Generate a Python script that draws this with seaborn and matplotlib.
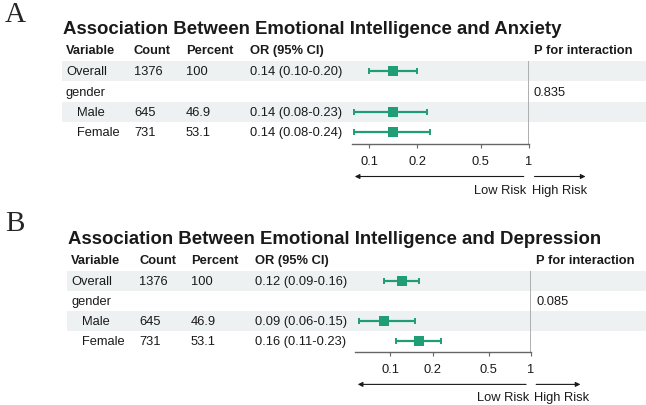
import numpy as np
import pandas as pd
import seaborn as sns
import matplotlib.pyplot as plt

# ---- data ----
variables = ["Overall", "gender", "Male", "Female"]
counts = ["1376", "", "645", "731"]
percents = ["100", "", "46.9", "53.1"]

anx_or = [0.14, np.nan, 0.14, 0.14]
anx_lo = [0.10, np.nan, 0.08, 0.08]
anx_hi = [0.20, np.nan, 0.23, 0.24]
anx_p = ["", "0.835", "", ""]

dep_or = [0.12, np.nan, 0.09, 0.16]
dep_lo = [0.09, np.nan, 0.06, 0.11]
dep_hi = [0.16, np.nan, 0.15, 0.23]
dep_p = ["", "0.085", "", ""]

ticks = [0.1, 0.2, 0.5, 1]
tick_labels = ["0.1", "0.2", "0.5", "1"]

sns.set_theme(style="white")
plt.rcParams["font.family"] = ["Liberation Sans", "DejaVu Sans"]

W, H = 646, 406
fig = plt.figure(figsize=(W / 100, H / 100), dpi=100)

GREEN = "#1f9e76"
BAND = "#edf1f2"
TXT = "#1a1a1a"


def fig_box(x0, x1, ytop, ybot):
    return [x0 / W, 1 - ybot / H, (x1 - x0) / W, (ybot - ytop) / H]


def panel(letter, letter_y, title, ors, los, his, pvals, dx, top, bot, fx0, fx1, xmin):
    df = pd.DataFrame({"var": variables, "n": counts, "pct": percents,
                       "or": ors, "lo": los, "hi": his, "p": pvals,
                       "row": range(len(variables))})
    ylim = (3.55, -0.5)

    # table layer
    tab = fig.add_axes(fig_box(0, W, top, bot))
    tab.set_xlim(0, W)
    tab.set_ylim(*ylim)
    tab.axis("off")
    for r in df["row"]:
        if r % 2 == 0:
            tab.axhspan(r - 0.5, r + 0.5, xmin=(62 + dx) / W, xmax=1, color=BAND, lw=0, zorder=0)

    cols = [66 + dx, 134 + dx, 186 + dx, 250 + dx, 534 + dx * 0.5]
    heads = ["Variable", "Count", "Percent", "OR (95% CI)", "P for interaction"]
    for x, h in zip(cols, heads):
        tab.text(x, -1.05, h, fontsize=9.3, fontweight="bold", color=TXT, va="center", clip_on=False)
    tab.text(63 + dx, -2.1, title, fontsize=13.4, fontweight="bold", color=TXT, va="center", clip_on=False)
    fig.text(5 / W, 1 - letter_y / H, letter, fontsize=21, family="Liberation Serif", va="center")

    for _, d in df.iterrows():
        indent = 11 if d["var"] in ("Male", "Female") else 0
        y = d["row"]
        tab.text(cols[0] + indent, y, d["var"], fontsize=9.3, color=TXT, va="center")
        tab.text(cols[1], y, d["n"], fontsize=9.3, color=TXT, va="center")
        tab.text(cols[2], y, d["pct"], fontsize=9.3, color=TXT, va="center")
        if not np.isnan(d["or"]):
            tab.text(cols[3], y, f"{d['or']:.2f} ({d['lo']:.2f}-{d['hi']:.2f})",
                     fontsize=9.3, color=TXT, va="center")
        tab.text(cols[4], y, d["p"], fontsize=9.3, color=TXT, va="center")

    # forest layer
    ax = fig.add_axes(fig_box(fx0, fx1, top, bot))
    ax.patch.set_alpha(0)
    est = df.dropna(subset=["or"])
    ax.errorbar(est["or"], est["row"],
                xerr=[est["or"] - est["lo"], est["hi"] - est["or"]],
                fmt="none", ecolor=GREEN, elinewidth=1.6, capsize=2.5, capthick=1.4, zorder=2)
    sns.scatterplot(data=est, x="or", y="row", marker="s", s=55, color=GREEN,
                    edgecolor=GREEN, linewidth=0, ax=ax, zorder=3)
    ax.set_xscale("log")
    ax.set_xlim(xmin, 1)
    ax.set_ylim(*ylim)
    ax.axvline(1, color="#a8a8a8", lw=1.3, zorder=1)
    sns.despine(ax=ax, left=True, top=True, right=True)
    ax.spines["bottom"].set_color("#666666")
    ax.spines["bottom"].set_linewidth(1.0)
    ax.set_xticks(ticks)
    ax.set_xticklabels(tick_labels)
    ax.minorticks_off()
    ax.tick_params(axis="x", bottom=True, length=3, width=0.8, color="#666666",
                   labelsize=9.3, labelcolor=TXT, pad=5)
    ax.set_yticks([])
    ax.set_xlabel("")
    ax.set_ylabel("")

    # risk arrows
    tr = ax.get_xaxis_transform()
    ax.annotate("", xy=(xmin, -0.4), xytext=(0.965, -0.4), xycoords=tr, textcoords=tr,
                arrowprops=dict(arrowstyle="-|>", color=TXT, lw=0.8, mutation_scale=7),
                annotation_clip=False)
    ax.annotate("", xy=(2.35, -0.4), xytext=(1.04, -0.4), xycoords=tr, textcoords=tr,
                arrowprops=dict(arrowstyle="-|>", color=TXT, lw=0.8, mutation_scale=7),
                annotation_clip=False)
    ax.text(0.965, -0.56, "Low Risk", transform=tr, ha="right", va="center", fontsize=9.3, color=TXT)
    ax.text(1.045, -0.56, "High Risk", transform=tr, ha="left", va="center", fontsize=9.3, color=TXT)


panel("A", 15, "Association Between Emotional Intelligence and Anxiety",
      anx_or, anx_lo, anx_hi, anx_p, 0, 62, 144.5, 352, 529, 0.078)
panel("B", 224, "Association Between Emotional Intelligence and Depression",
      dep_or, dep_lo, dep_hi, dep_p, 5, 272, 353, 355, 531, 0.056)

fig.savefig("out.png", dpi=100)
